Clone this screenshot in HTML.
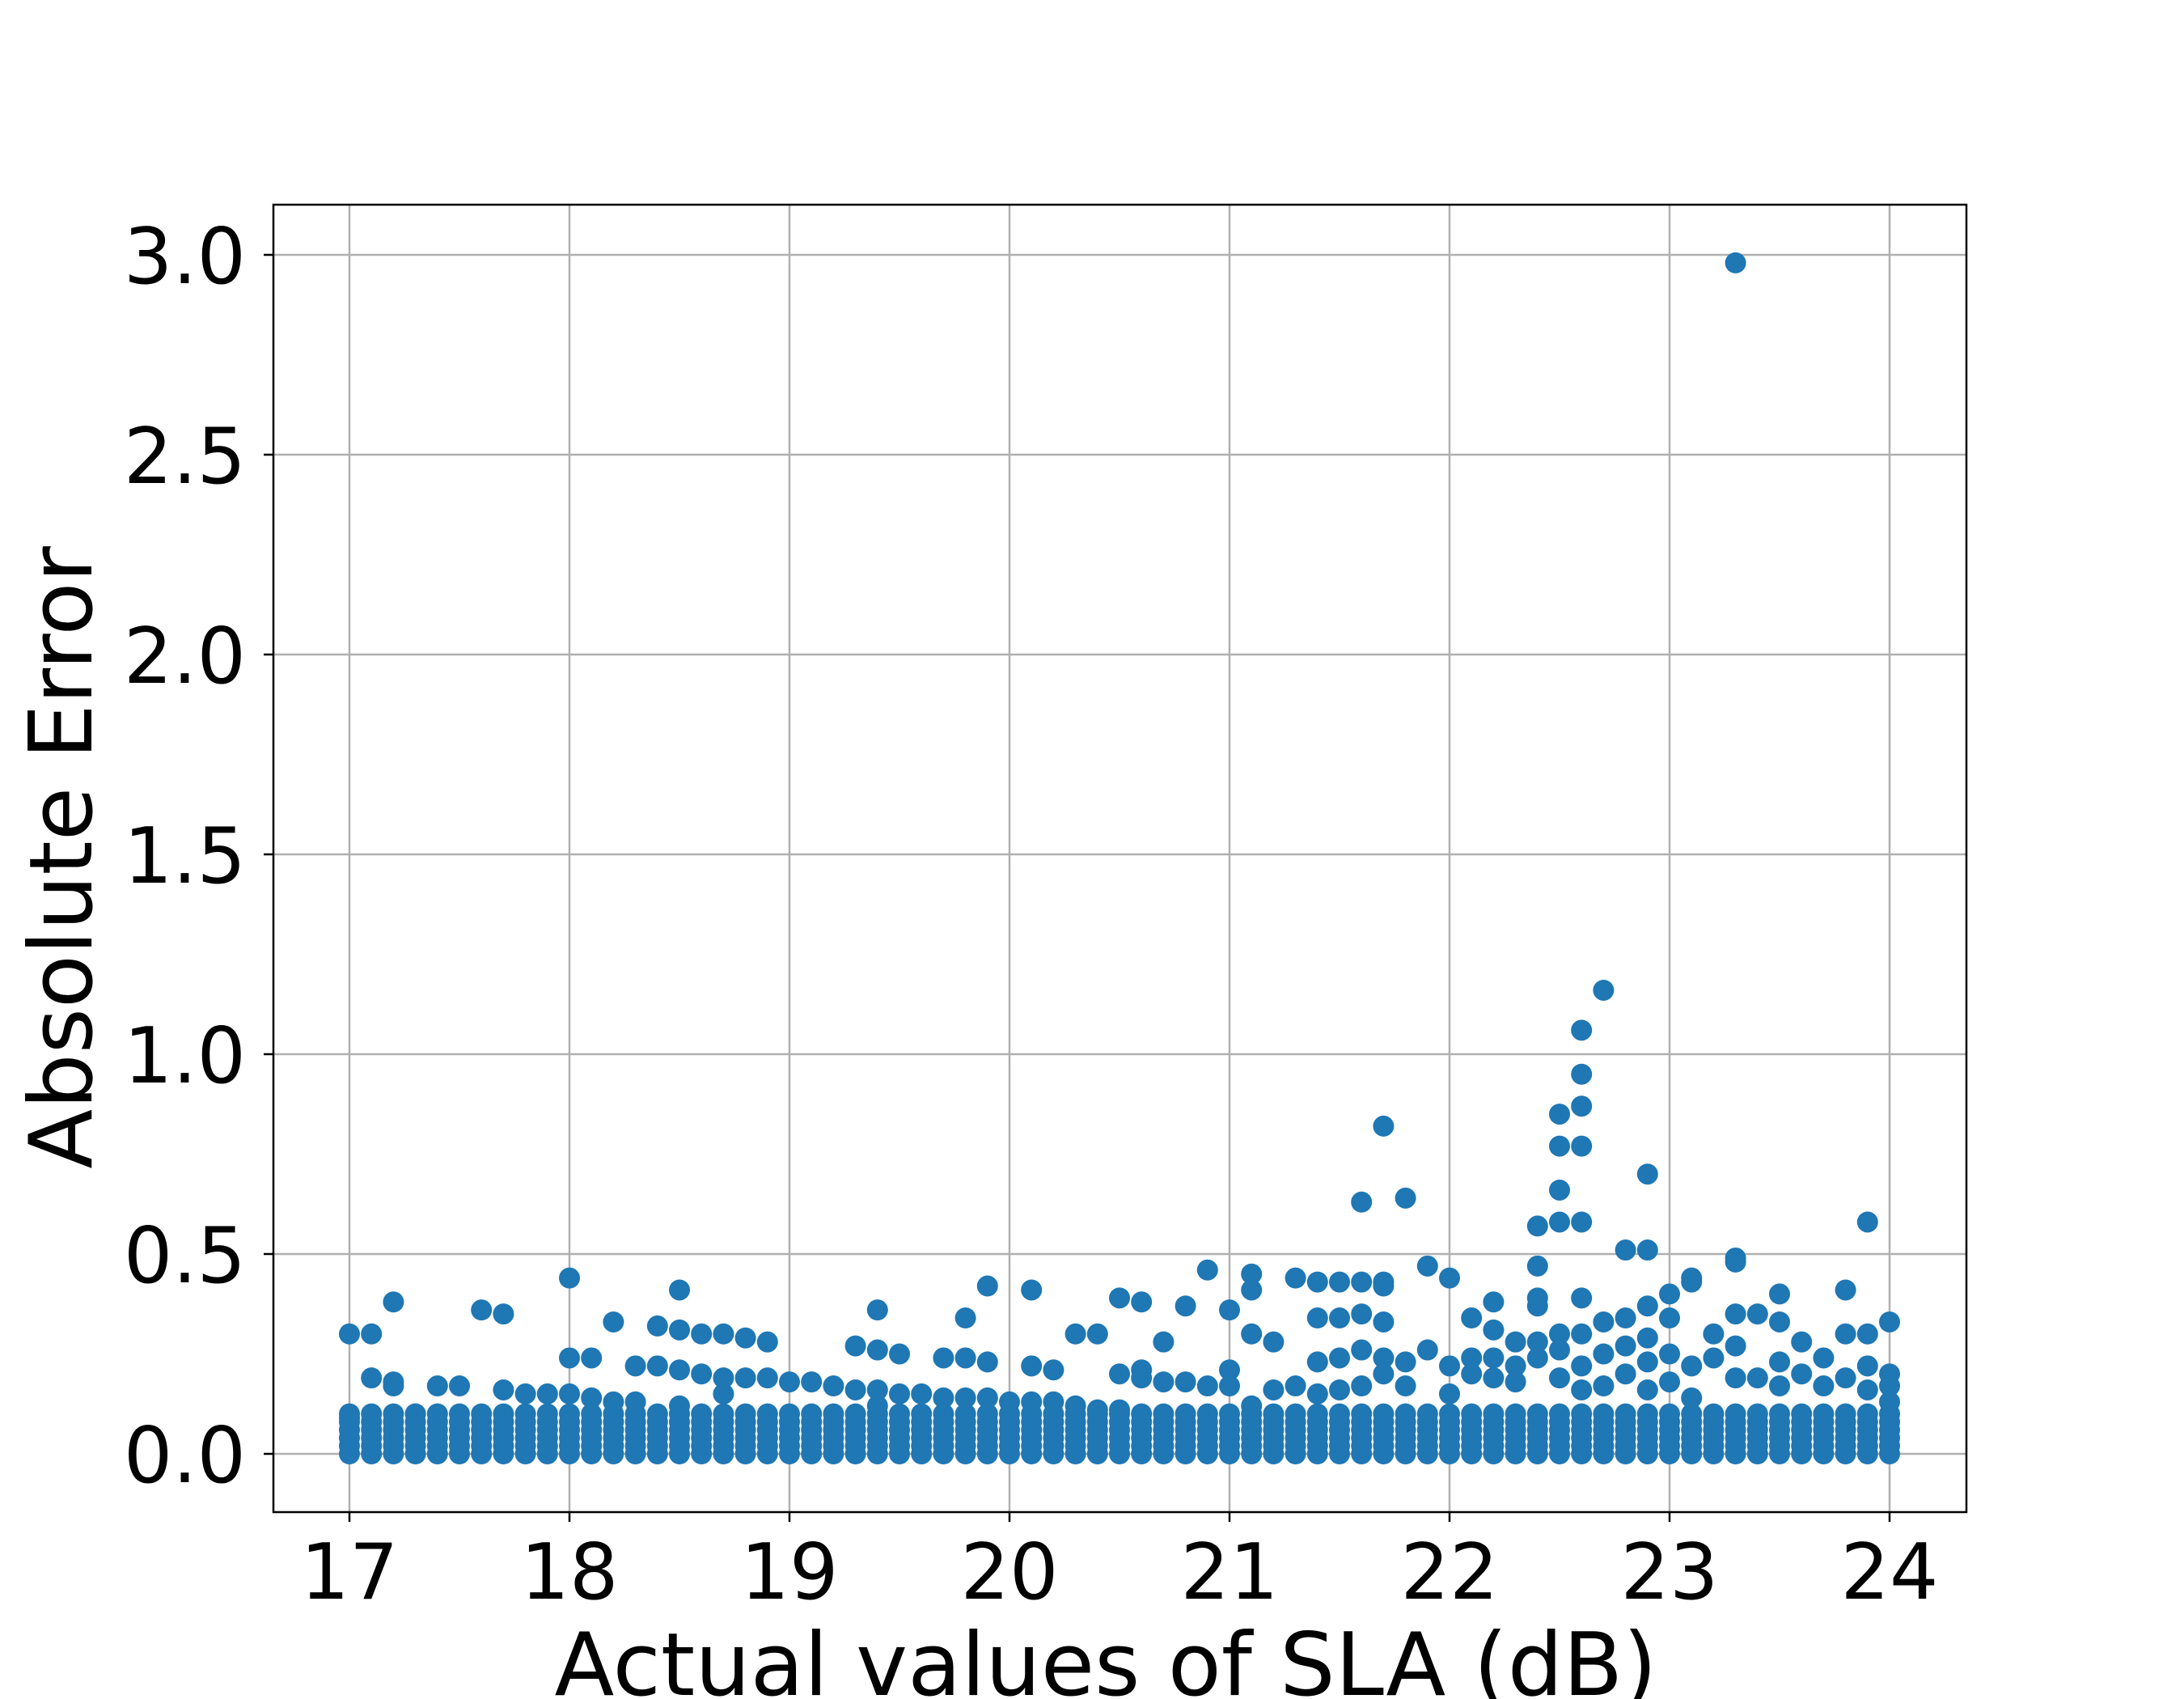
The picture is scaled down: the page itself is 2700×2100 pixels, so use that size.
<!DOCTYPE html>
<html><head><meta charset="utf-8"><style>
html,body{margin:0;padding:0;background:#fff}
svg{display:block;font-family:"DejaVu Sans","Liberation Sans",sans-serif}
</style></head><body>
<svg id="chart" width="2700" height="2100" viewBox="0 0 2700 2100" xmlns="http://www.w3.org/2000/svg">
<rect width="2700" height="2100" fill="#fff"/>
<g id="grid"></g>
<g id="points"></g>
<rect x="338" y="253" width="2093" height="1616" fill="none" stroke="#000" stroke-width="2.5"/>
<g id="ticks"></g>
<text x="1367" y="2095" font-size="108" text-anchor="middle">Actual values of SLA (dB)</text>
<text transform="translate(113,1060) rotate(-90)" font-size="108" text-anchor="middle">Absolute Error</text>
</svg>
<script>
const xTicks = [17,18,19,20,21,22,23,24];
const yTicks = [0,0.5,1,1.5,2,2.5,3];
const yTickLabels = ["0.0","0.5","1.0","1.5","2.0","2.5","3.0"];
const baseErrors = [0.0,0.02,0.04,0.06,0.08,0.10];
const columnX = [17.0,17.1,17.2,17.3,17.4,17.5,17.6,17.7,17.8,17.9,18.0,18.1,18.2,18.3,18.4,18.5,18.6,18.7,18.8,18.9,19.0,19.1,19.2,19.3,19.4,19.5,19.6,19.7,19.8,19.9,20.0,20.1,20.2,20.3,20.4,20.5,20.6,20.7,20.8,20.9,21.0,21.1,21.2,21.3,21.4,21.5,21.6,21.7,21.8,21.9,22.0,22.1,22.2,22.3,22.4,22.5,22.6,22.7,22.8,22.9,23.0,23.1,23.2,23.3,23.4,23.5,23.6,23.7,23.8,23.9,24.0];
const extraErrors = [
[0.30,0.09],[0.30,0.19],[0.38,0.18,0.17],[0.10],[0.17],[0.17],[0.36],[0.35,0.16],[0.15],[0.15],
[0.44,0.24,0.15],[0.24,0.14],[0.33,0.13],[0.22,0.13],[0.32,0.22],[0.41,0.31,0.21,0.12],[0.30,0.20],[0.30,0.19,0.15],[0.29,0.19],[0.28,0.19],
[0.18],[0.18],[0.17],[0.27,0.16],[0.36,0.26,0.16,0.12],[0.25,0.15],[0.15],[0.24,0.14],[0.34,0.24,0.14],[0.42,0.23,0.14],
[0.13],[0.41,0.22,0.13],[0.21,0.13],[0.30,0.12],[0.30,0.11],[0.39,0.20,0.11],[0.38,0.21,0.19],[0.28,0.18],[0.37,0.18],[0.46,0.17],
[0.36,0.21,0.17],[0.45,0.41,0.30,0.12],[0.28,0.16],[0.44,0.17],[0.43,0.34,0.23,0.15],[0.43,0.34,0.24,0.16],[0.63,0.43,0.35,0.26,0.17],[0.82,0.43,0.42,0.33,0.24,0.20],[0.64,0.23,0.17],[0.47,0.26],
[0.44,0.22,0.15],[0.34,0.24,0.20],[0.38,0.31,0.24,0.19],[0.28,0.22,0.18],[0.57,0.47,0.39,0.37,0.28,0.24],[0.85,0.77,0.66,0.58,0.30,0.26,0.19],[1.06,0.95,0.87,0.77,0.58,0.39,0.30,0.22,0.16],[1.16,0.33,0.25,0.17],[0.51,0.34,0.27,0.20],[0.70,0.51,0.37,0.29,0.23,0.16],
[0.40,0.34,0.25,0.18],[0.44,0.43,0.22,0.14],[0.30,0.24],[2.98,0.49,0.48,0.35,0.27,0.19],[0.35,0.19],[0.40,0.33,0.23,0.17],[0.28,0.20],[0.24,0.17],[0.41,0.30,0.19],[0.58,0.30,0.22,0.16],[0.33,0.20,0.17,0.13]
];
const NS="http://www.w3.org/2000/svg";
const L=338,R=2431,T=253,B=1869;
function sx(v){return 432+(v-17)*(2336-432)/7;}
function sy(v){return 1797-v*(1797-315)/3;}
function mk(tag,attrs,parent){const e=document.createElementNS(NS,tag);for(const k in attrs)e.setAttribute(k,attrs[k]);parent.appendChild(e);return e;}
const grid=document.getElementById('grid'),ticks=document.getElementById('ticks'),pts=document.getElementById('points');
xTicks.forEach(v=>{
  const x=sx(v);
  const g=mk('line',{x1:x,x2:x,y1:T,y2:B,stroke:'#b0b0b0','stroke-width':2.5},grid);
  
  
  const t=mk('line',{x1:x,x2:x,y1:B,y2:B+12,stroke:'#000','stroke-width':2.5},ticks);
  
  
  const l=mk('text',{x:x,y:1976,'font-size':95,'text-anchor':'middle'},ticks);
  l.textContent=String(v);
  
  
});
yTicks.forEach((v,i)=>{
  const y=sy(v);
  const g=mk('line',{x1:L,x2:R,y1:y,y2:y,stroke:'#b0b0b0','stroke-width':2.5},grid);
  
  
  const t=mk('line',{x1:L-12,x2:L,y1:y,y2:y,stroke:'#000','stroke-width':2.5},ticks);
  
  
  const l=mk('text',{x:L-34,y:y+35,'font-size':95,'text-anchor':'end'},ticks);
  l.textContent=yTickLabels[i];
  
  
});
columnX.forEach((xv,i)=>{
  baseErrors.concat(extraErrors[i]).forEach(yv=>{
    const c=mk('circle',{cx:sx(xv),cy:sy(yv),r:13,fill:'#1f77b4'},pts);
    
    
  });
});
</script>
</body></html>
